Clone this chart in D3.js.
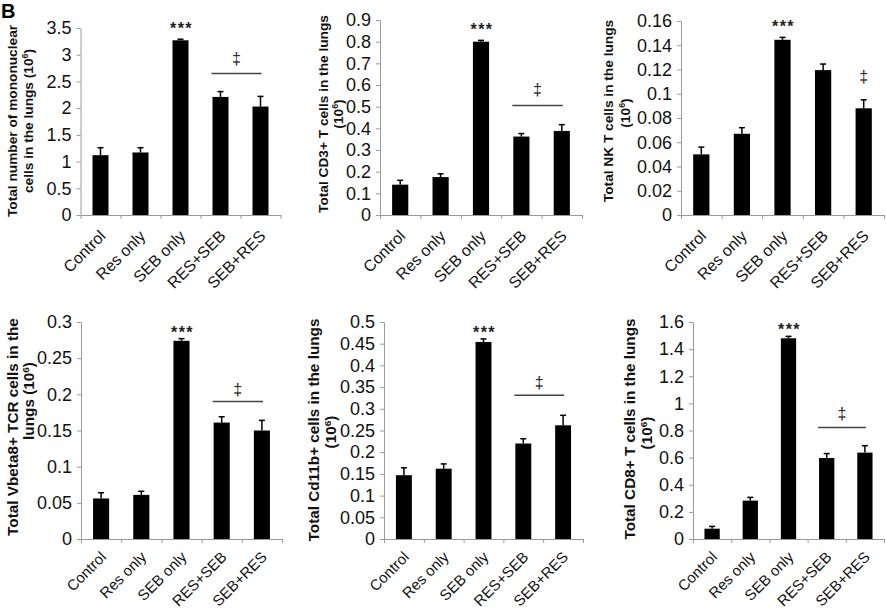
<!DOCTYPE html>
<html><head><meta charset="utf-8">
<script src="https://cdn.jsdelivr.net/npm/d3@7"></script>
<style>
body{margin:0;background:#fff}
svg{display:block}
text{font-family:Arial,"Liberation Sans",Helvetica,sans-serif}
</style>
</head><body>
<svg id="chart" width="886" height="614"></svg>
<script>
// ---------------- DATA ----------------
const categories = ["Control", "Res only", "SEB only", "RES+SEB", "SEB+RES"];

const mononuclear    = [1.12, 1.17, 3.27, 2.21, 2.03];
const mononuclearErr = [0.14, 0.09, 0.02, 0.10, 0.19];
const cd3            = [0.14, 0.175, 0.80, 0.362, 0.388];
const cd3Err         = [0.02, 0.015, 0.006, 0.014, 0.029];
const nkt            = [0.050, 0.067, 0.1445, 0.1195, 0.088];
const nktErr         = [0.006, 0.005, 0.002, 0.005, 0.007];
const vbeta8         = [0.056, 0.061, 0.274, 0.161, 0.150];
const vbeta8Err      = [0.008, 0.005, 0.003, 0.008, 0.014];
const cd11b          = [0.147, 0.162, 0.454, 0.220, 0.262];
const cd11bErr       = [0.017, 0.011, 0.007, 0.011, 0.023];
const cd8            = [0.076, 0.283, 1.48, 0.597, 0.637];
const cd8Err         = [0.017, 0.024, 0.014, 0.033, 0.051];

const ticksMono  = [0, 0.5, 1, 1.5, 2, 2.5, 3, 3.5];
const ticksCd3   = [0, 0.1, 0.2, 0.3, 0.4, 0.5, 0.6, 0.7, 0.8, 0.9];
const ticksNkt   = [0, 0.02, 0.04, 0.06, 0.08, 0.1, 0.12, 0.14, 0.16];
const ticksVb    = [0, 0.05, 0.1, 0.15, 0.2, 0.25, 0.3];
const ticksCd11b = [0, 0.05, 0.1, 0.15, 0.2, 0.25, 0.3, 0.35, 0.4, 0.45, 0.5];
const ticksCd8   = [0, 0.2, 0.4, 0.6, 0.8, 1, 1.2, 1.4, 1.6];

const titlesMono  = ["Total number of mononuclear", "cells in the lungs (10^6)"];
const titlesCd3   = ["Total CD3+ T cells in the lungs", "(10^6)"];
const titlesNkt   = ["Total NK T cells in the lungs", "(10^6)"];
const titlesVb    = ["Total Vbeta8+ TCR cells in the", "lungs (10^6)"];
const titlesCd11b = ["Total Cd11b+ cells in the lungs", "(10^6)"];
const titlesCd8   = ["Total CD8+ T cells in the lungs", "(10^6)"];

// significance annotations (data units)
const starCategory   = "SEB only";
const bracketLevels  = [2.65, 0.505, null, 0.19, 0.331, 0.823];
const daggerLevels   = [2.93, 0.58, 0.115, 0.208, 0.362, 0.93];

// ---------------- LAYOUT ----------------
const panels = [
  {vals: mononuclear, errs: mononuclearErr, ticks: ticksMono, titles: titlesMono,
   x0: 80.5, x1: 280.5, y0: 215, y1: 28, ty: [17, 33], tc: [121, 121], row: 0},
  {vals: cd3, errs: cd3Err, ticks: ticksCd3, titles: titlesCd3,
   x0: 380, x1: 582, y0: 215, y1: 20, ty: [328, 343], tc: [114, 114], row: 0},
  {vals: nkt, errs: nktErr, ticks: ticksNkt, titles: titlesNkt,
   x0: 681, x1: 884, y0: 215, y1: 21, ty: [613, 630], tc: [111, 113], row: 0},
  {vals: vbeta8, errs: vbeta8Err, ticks: ticksVb, titles: titlesVb,
   x0: 81, x1: 282, y0: 539, y1: 322, ty: [18, 34], tc: [427, 401], row: 1},
  {vals: cd11b, errs: cd11bErr, ticks: ticksCd11b, titles: titlesCd11b,
   x0: 384, x1: 583, y0: 539, y1: 322, ty: [319, 336], tc: [430, 432], row: 1},
  {vals: cd8, errs: cd8Err, ticks: ticksCd8, titles: titlesCd8,
   x0: 693, x1: 884, y0: 539, y1: 322, ty: [635, 652], tc: [429, 433], row: 1}
];
const rowFont = [{tick: 18, x: 16, y: 13.7, xdy: 22}, {tick: 18, x: 15, y: 15.3, xdy: 19}];

const svg = d3.select("#chart");

// panel letter
svg.append("text").attr("x", 1).attr("y", 18)
  .attr("font-size", 20).attr("font-weight", "bold").text("B");

panels.forEach((p, i) => {
  const f = rowFont[p.row];
  const g = svg.append("g");
  const x = d3.scaleBand().domain(categories).range([p.x0, p.x1])
    .paddingInner(0.6).paddingOuter(0.3);
  const y = d3.scaleLinear().domain([0, p.ticks[p.ticks.length - 1]]).range([p.y0, p.y1]);
  const xb = d3.scaleLinear().domain([0, categories.length]).range([p.x0, p.x1]);

  // y axis
  const ya = g.append("g").attr("transform", `translate(${p.x0},0)`)
    .call(d3.axisLeft(y).tickValues(p.ticks).tickSize(4).tickSizeOuter(0)
      .tickPadding(5).tickFormat(d => String(d)));
  ya.attr("color", "#9a9a9a");
  ya.selectAll("text").attr("fill", "#111").attr("font-size", f.tick)
    .attr("font-family", "Arial, 'Liberation Sans', sans-serif");

  // x axis (ticks at category boundaries)
  const xa = g.append("g").attr("transform", `translate(0,${p.y0})`)
    .call(d3.axisBottom(xb).tickValues(d3.range(categories.length + 1))
      .tickSize(4).tickSizeOuter(0).tickFormat(""));
  xa.attr("color", "#9a9a9a");

  // x labels
  g.selectAll(".xl").data(categories).join("text")
    .attr("transform", d => `translate(${x(d) + x.bandwidth() / 2 + 6},${p.y0 + f.xdy}) rotate(-45)`)
    .attr("text-anchor", "end").attr("font-size", f.x).attr("fill", "#111")
    .text(d => d);

  // bars
  g.selectAll(".bar").data(p.vals).join("rect")
    .attr("x", (d, j) => x(categories[j])).attr("width", x.bandwidth())
    .attr("y", d => y(d)).attr("height", d => p.y0 - y(d)).attr("fill", "#000");

  // error bars (upper)
  const cx = j => x(categories[j]) + x.bandwidth() / 2;
  g.selectAll(".eb").data(p.vals).join("line")
    .attr("x1", (d, j) => cx(j)).attr("x2", (d, j) => cx(j))
    .attr("y1", d => y(d)).attr("y2", (d, j) => y(d + p.errs[j]))
    .attr("stroke", "#000").attr("stroke-width", 1.5);
  g.selectAll(".ec").data(p.vals).join("line")
    .attr("x1", (d, j) => cx(j) - 3).attr("x2", (d, j) => cx(j) + 3)
    .attr("y1", (d, j) => y(d + p.errs[j])).attr("y2", (d, j) => y(d + p.errs[j]))
    .attr("stroke", "#000").attr("stroke-width", 1.5);

  // *** above SEB only
  const si = categories.indexOf(starCategory);
  g.append("text").attr("x", cx(si) + 1).attr("y", y(p.vals[si] + p.errs[si]) - (p.row === 0 ? 5 : 1))
    .attr("text-anchor", "middle").attr("font-size", 16).attr("font-weight", "bold")
    .attr("letter-spacing", 1.5).attr("fill", "#222").text("***");

  // bracket + double dagger
  const a = categories.indexOf("RES+SEB"), b = categories.indexOf("SEB+RES");
  const dag = (xx) => g.append("text").attr("x", xx).attr("y", y(daggerLevels[i]) + 6)
      .attr("text-anchor", "middle").attr("font-size", 16)
      .attr("font-family", "'DejaVu Sans', sans-serif").attr("fill", "#222").text("\u2021");
  if (bracketLevels[i] !== null) {
    const lx1 = x(categories[a]) - 1, lx2 = cx(b) + 1;
    g.append("line").attr("x1", lx1).attr("x2", lx2)
      .attr("y1", y(bracketLevels[i])).attr("y2", y(bracketLevels[i]))
      .attr("stroke", "#444").attr("stroke-width", 1.5);
    dag((lx1 + lx2) / 2);
  } else {
    dag(cx(b));
  }

  // y title (two lines, rotated)
  p.titles.forEach((t, k) => {
    const tx = g.append("text")
      .attr("transform", `translate(${p.ty[k]},${p.tc[k]}) rotate(-90)`)
      .attr("text-anchor", "middle").attr("font-size", f.y).attr("font-weight", "bold")
      .attr("fill", "#111");
    const parts = t.split("^6");
    if (parts.length === 2) {
      tx.append("tspan").text(parts[0]);
      tx.append("tspan").attr("dy", -f.y * 0.35).attr("font-size", f.y * 0.65).text("6");
      tx.append("tspan").attr("dy", f.y * 0.35).text(parts[1]);
    } else {
      tx.text(t);
    }
  });
});
</script>
</body></html>
